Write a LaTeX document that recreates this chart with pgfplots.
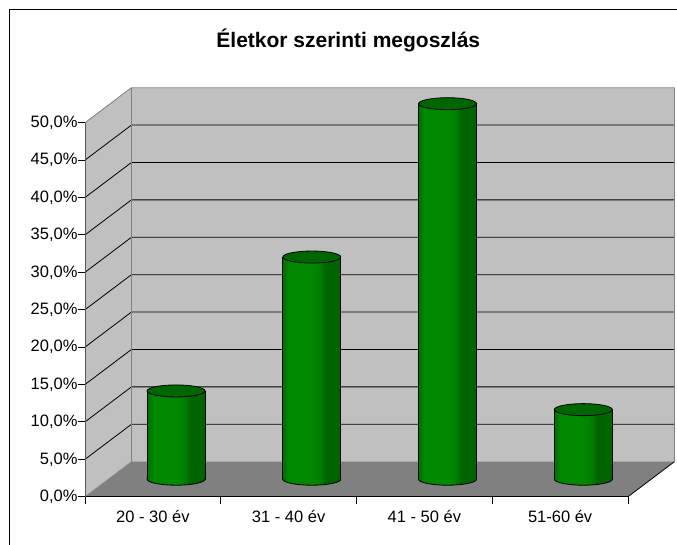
\documentclass[border=0pt]{standalone}
\usepackage{fontspec}
\setmainfont{Liberation Sans}
\usepackage{pgfplots}
\usepackage{pgfplotstable}
\pgfplotsset{compat=1.18}

\definecolor{wall}{RGB}{192,192,192}
\definecolor{floorc}{RGB}{128,128,128}
\definecolor{edgec}{RGB}{128,128,128}
\definecolor{gA}{RGB}{0,112,0}
\definecolor{gB}{RGB}{0,136,0}
\definecolor{gC}{RGB}{0,122,0}
\definecolor{gD}{RGB}{0,100,0}
\definecolor{capc}{RGB}{0,102,0}

\pgfdeclarehorizontalshading{cylsh}{100bp}{color(0bp)=(gA); color(25bp)=(gA); color(30bp)=(gB); color(52bp)=(gB); color(58bp)=(gC); color(62bp)=(gD); color(100bp)=(gD)}

\pgfdeclareplotmark{cyltop}{%
  \pgfpathellipse{\pgfpointorigin}{\pgfqpoint{29pt}{0pt}}{\pgfqpoint{0pt}{6pt}}%
  \pgfusepathqfillstroke}
\pgfdeclareplotmark{cylbot}{%
  \pgfpathmoveto{\pgfqpoint{-29pt}{1.2pt}}%
  \pgfpathlineto{\pgfqpoint{-29pt}{0pt}}%
  \pgfpatharc{180}{360}{29pt and 6pt}%
  \pgfpathlineto{\pgfqpoint{29pt}{1.2pt}}%
  \pgfpathclose
  \pgfshadepath{cylsh}{0}%
  \pgfusepath{discard}%
  \pgfpathmoveto{\pgfqpoint{-29pt}{1.2pt}}%
  \pgfpathlineto{\pgfqpoint{-29pt}{0pt}}%
  \pgfpatharc{180}{360}{29pt and 6pt}%
  \pgfpathlineto{\pgfqpoint{29pt}{1.2pt}}%
  \pgfusepathqstroke}

\pgfplotstableread{
x v
0 11.8
1 29.7
2 50.2
3 9.3
}\agedata

\tikzset{mid/.style={xshift=23.2pt, yshift=17.5pt},
  bk/.style={shift={(46.4pt,35pt)}}}
\pgfplotsset{body/.style={ybar, bar width=58pt, draw=black, line width=0.8pt, shading=cylsh, shading angle=0, mid}}

\begin{document}
\begin{tikzpicture}
\useasboundingbox (0pt,0pt) rectangle (677pt,545pt);
\fill[white] (0pt,0pt) rectangle (677pt,545pt);
\draw[black, line width=1pt] (9pt,0pt) -- (9pt,535pt) -- (677pt,535pt);
\node[anchor=base, font=\fontsize{21}{25}\selectfont\bfseries] at (348.3pt,497.7pt) {Életkor szerinti megoszlás};
\begin{axis}[
  at={(85pt,48.3pt)}, anchor=south west,
  scale only axis, width=543pt, height=374pt,
  xmin=-0.5, xmax=3.5, ymin=0, ymax=50,
  clip=false, axis on top,
  axis x line*=bottom, axis y line*=left,
  x axis line style={black, line width=0.8pt},
  y axis line style={gray!70!black, line width=0.8pt},
  xtick={-0.5,0.5,1.5,2.5,3.5},
  x tick label as interval,
  xticklabels={20 - 30 év,31 - 40 év,41 - 50 év,51-60 év},
  ytick={0,5,...,50},
  yticklabels={{0,0\%},{5,0\%},{10,0\%},{15,0\%},{20,0\%},{25,0\%},{30,0\%},{35,0\%},{40,0\%},{45,0\%},{50,0\%}},
  tick align=outside, major tick length=7pt,
  tick style={black, line width=0.8pt},
  ticklabel style={font=\fontsize{16.5}{19}\selectfont},
  xticklabel style={yshift=-3pt},
  yticklabel style={xshift=3pt},
]
% walls and floor
\fill[wall] (axis cs:-0.5,0) -- (axis cs:-0.5,50) -- ([bk]axis cs:-0.5,50) -- ([bk]axis cs:-0.5,0) -- cycle;
\fill[wall] ([bk]axis cs:-0.5,0) rectangle ([bk]axis cs:3.5,50);
\fill[floorc] (axis cs:-0.5,0) -- (axis cs:3.5,0) -- ([bk]axis cs:3.5,0) -- ([bk]axis cs:-0.5,0) -- cycle;
\pgfplotsinvokeforeach{5,10,...,45}{
  \draw[black, line width=0.8pt] (axis cs:-0.5,#1) -- ([bk]axis cs:-0.5,#1) -- ([bk]axis cs:3.5,#1);
}
\draw[edgec, line width=0.8pt] (axis cs:-0.5,50) -- ([bk]axis cs:-0.5,50) -- ([bk]axis cs:3.5,50) -- ([bk]axis cs:3.5,0);
\draw[edgec, line width=0.8pt] ([bk]axis cs:-0.5,50) -- ([bk]axis cs:-0.5,0);
\draw[black!45, line width=0.6pt] (axis cs:-0.5,0) -- ([bk]axis cs:-0.5,0);
\draw[black, line width=0.8pt] (axis cs:3.5,0) -- ([bk]axis cs:3.5,0);
% cylinders (one bar per plot so each gets its own shading)
\addplot[body, restrict x to domain=-0.2:0.2] table[x=x, y=v] {\agedata};
\addplot[body, restrict x to domain=0.8:1.2] table[x=x, y=v] {\agedata};
\addplot[body, restrict x to domain=1.8:2.2] table[x=x, y=v] {\agedata};
\addplot[body, restrict x to domain=2.8:3.2] table[x=x, y=v] {\agedata};
\addplot[only marks, mark=cylbot, mark options={draw=black, line width=0.8pt}, mid] table[x=x, y expr=0] {\agedata};
\addplot[only marks, mark=cyltop, mark options={fill=capc, draw=black, line width=0.8pt}, mid] table[x=x, y=v] {\agedata};
\end{axis}
\end{tikzpicture}
\end{document}
